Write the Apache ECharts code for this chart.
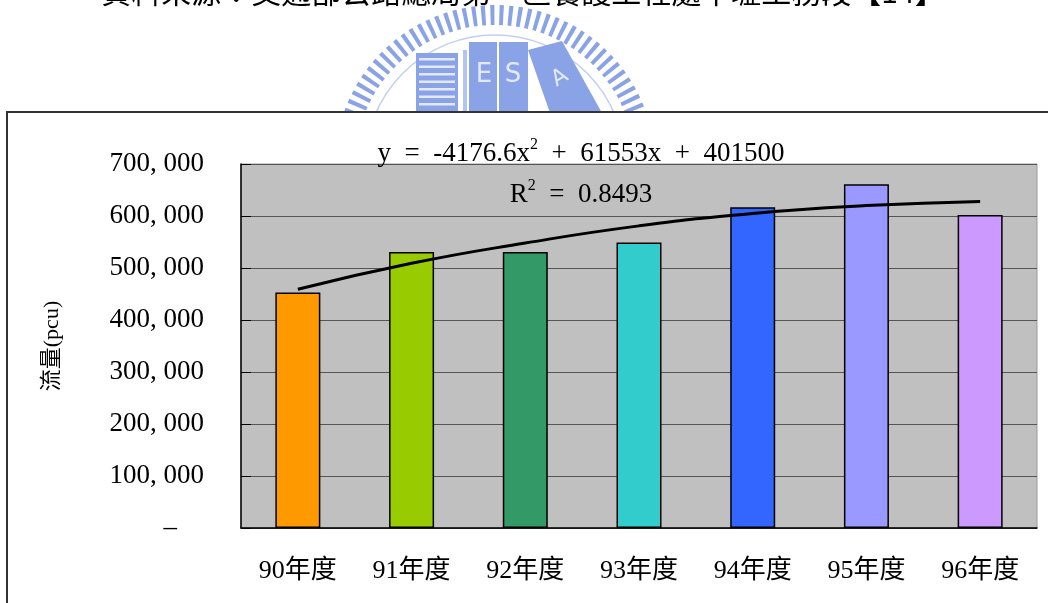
<!DOCTYPE html>
<html>
<head>
<meta charset="utf-8">
<script src="https://cdn.jsdelivr.net/npm/echarts@6/dist/echarts.min.js"></script>
<style>
  html, body { margin: 0; padding: 0; background: #fff; }
  #chart { width: 1048px; height: 603px; }
</style>
</head>
<body>
<div id="chart"></div>
<script>
// Annual traffic volume (pcu) by fiscal year, with a quadratic trend line
const categories = ['90年度', '91年度', '92年度', '93年度', '94年度', '95年度', '96年度'];
const flowValues = [453000, 531000, 531000, 549000, 617000, 661000, 602000];
const trendValues = [459000, 509000, 548000, 581000, 605000, 620000, 628000];
const barColors = ['#FF9900', '#99CC00', '#339966', '#33CCCC', '#3366FF', '#9999FF', '#CC99FF'];
const yMin = 0, yMax = 700000, yStep = 100000;
const yAxisName = '流量(pcu)';
const sourceNote = '資料來源：交通部公路總局第一區養護工程處中壢工務段【14】';
const equationParts = ['y  =  -4176.6x', '2', '  +  61553x  +  401500'];
const r2Parts = ['R', '2', '  =  0.8493'];

const serif = "'Liberation Serif', 'Noto Sans CJK TC', serif";
const wmBlue = '#8aa3e6';

const chart = echarts.init(document.getElementById('chart'), null, { renderer: 'canvas' });

const supRich = {
  t: { fontFamily: serif, fontSize: 27, fontWeight: 'normal', color: '#000', lineHeight: 32, verticalAlign: 'bottom' },
  s: { fontFamily: serif, fontSize: 16, fontWeight: 'normal', color: '#000', lineHeight: 32, verticalAlign: 'top', padding: [2, 0, 0, 0] }
};

function fmtY(v) {
  if (v === 0) return '{d|–}';
  return v.toLocaleString('en-US').replace(/,/g, ', ');
}

const option = {
  backgroundColor: '#fff',
  animation: false,
  title: [
    {
      text: '{t|' + equationParts[0] + '}{s|' + equationParts[1] + '}{t|' + equationParts[2] + '}',
      left: 576, top: 130, textAlign: 'center', z: 7,
      textStyle: { fontWeight: 'normal', rich: supRich }
    },
    {
      text: '{t|' + r2Parts[0] + '}{s|' + r2Parts[1] + '}{t|' + r2Parts[2] + '}',
      left: 576, top: 171, textAlign: 'center', z: 7,
      textStyle: { fontWeight: 'normal', rich: supRich }
    }
  ],
  graphic: [
    // faint university emblem behind the chart frame
    { type: 'arc', z: 0, silent: true,
      shape: { cx: 495, cy: 165, r: 150, startAngle: 0, endAngle: Math.PI * 2 },
      style: { fill: null, stroke: wmBlue, lineWidth: 20, lineDash: [4, 5] } },
    { type: 'circle', z: 0, silent: true,
      shape: { cx: 495, cy: 165, r: 130 },
      style: { fill: null, stroke: '#c3cff2', lineWidth: 1.5 } },
    { type: 'rect', z: 0, silent: true,
      shape: { x: 416, y: 53, width: 42, height: 60 },
      style: { fill: wmBlue } },
    { type: 'group', z: 0, silent: true, children: [0, 1, 2, 3, 4, 5, 6].map(k => ({
      type: 'rect', shape: { x: 419, y: 58 + k * 7.5, width: 36, height: 2.5 },
      style: { fill: '#e3e9fa' } })) },
    { type: 'rect', z: 0, silent: true,
      shape: { x: 463, y: 50, width: 4, height: 62 },
      style: { fill: '#b4c4f0' } },
    { type: 'rect', z: 0, silent: true,
      shape: { x: 469, y: 42, width: 28, height: 71 },
      style: { fill: wmBlue } },
    { type: 'rect', z: 0, silent: true,
      shape: { x: 499, y: 42, width: 29, height: 71 },
      style: { fill: wmBlue } },
    { type: 'polygon', z: 0, silent: true,
      shape: { points: [[528, 50], [562, 41], [602, 113], [550, 113]] },
      style: { fill: wmBlue } },
    { type: 'text', z: 0, silent: true, x: 484, y: 75,
      style: { text: 'E', font: "26px 'DejaVu Sans'", fill: '#e3e9fa', align: 'center', verticalAlign: 'middle' } },
    { type: 'text', z: 0, silent: true, x: 513, y: 75,
      style: { text: 'S', font: "26px 'DejaVu Sans'", fill: '#e3e9fa', align: 'center', verticalAlign: 'middle' } },
    { type: 'text', z: 0, silent: true, x: 560, y: 78, rotation: 0.55,
      style: { text: 'A', font: "22px 'DejaVu Sans'", fill: '#e3e9fa', align: 'center', verticalAlign: 'middle' } },
    // source note, mostly above the page edge
    { type: 'text', z: 0, silent: true, x: 523, y: -8,
      style: { text: sourceNote, font: "30px 'Noto Sans CJK TC'", fill: '#000', align: 'center', verticalAlign: 'middle' } },
    // chart frame
    { type: 'rect', z: 1, silent: true,
      shape: { x: 7, y: 112, width: 1100, height: 600 },
      style: { fill: '#fff', stroke: '#333', lineWidth: 2 } }
  ],
  grid: {
    left: 241, right: 11, top: 164, bottom: 75,
    show: true, backgroundColor: '#c0c0c0', borderColor: '#9a9a9a', borderWidth: 1, z: 3
  },
  xAxis: {
    type: 'category', data: categories, z: 4,
    axisLine: { lineStyle: { color: '#000', width: 1.5 } },
    axisTick: { inside: true, length: 8, lineStyle: { color: '#000' } },
    axisLabel: { fontFamily: serif, fontSize: 26, color: '#000', margin: 30 }
  },
  yAxis: {
    type: 'value', min: yMin, max: yMax, interval: yStep, z: 4,
    name: yAxisName, nameLocation: 'middle', nameRotate: 90, nameGap: 178,
    nameTextStyle: { fontFamily: serif, fontSize: 22, color: '#000' },
    axisLine: { show: true, lineStyle: { color: '#000', width: 1.5 } },
    axisTick: { show: true, inside: true, length: 10, lineStyle: { color: '#000' } },
    splitLine: { lineStyle: { color: '#555', width: 1 } },
    axisLabel: {
      formatter: fmtY, fontFamily: serif, fontSize: 27, color: '#000', margin: 37,
      rich: { d: { fontFamily: serif, fontSize: 27, color: '#000', padding: [0, 27, 0, 0] } }
    }
  },
  series: [
    {
      type: 'bar', z: 5, barWidth: 45,
      data: flowValues.map((v, i) => ({ value: v, itemStyle: { color: barColors[i] } })),
      itemStyle: { borderColor: '#000', borderWidth: 1.5 }
    },
    {
      type: 'line', z: 6, data: trendValues, smooth: true, symbol: 'none',
      lineStyle: { color: '#000', width: 3 }
    }
  ]
};

chart.setOption(option);
</script>
</body>
</html>
